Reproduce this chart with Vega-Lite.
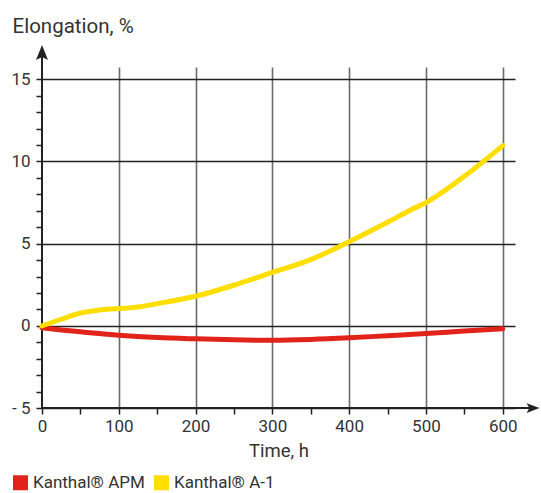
{
  "$schema": "https://vega.github.io/schema/vega-lite/v6.json",
  "autosize": {"type": "none"},
  "padding": {"left": 42, "top": 67, "right": 26, "bottom": 85},
  "width": 473,
  "height": 341,
  "background": "white",
  "config": {"view": {"stroke": null}},
  "datasets": {
    "curves": [
      {"series": "Kanthal® APM", "time": 0, "elongation": -0.12},
      {"series": "Kanthal® APM", "time": 25, "elongation": -0.25},
      {"series": "Kanthal® APM", "time": 50, "elongation": -0.36},
      {"series": "Kanthal® APM", "time": 100, "elongation": -0.57},
      {"series": "Kanthal® APM", "time": 150, "elongation": -0.71},
      {"series": "Kanthal® APM", "time": 200, "elongation": -0.79},
      {"series": "Kanthal® APM", "time": 250, "elongation": -0.85},
      {"series": "Kanthal® APM", "time": 300, "elongation": -0.88},
      {"series": "Kanthal® APM", "time": 350, "elongation": -0.83},
      {"series": "Kanthal® APM", "time": 400, "elongation": -0.73},
      {"series": "Kanthal® APM", "time": 450, "elongation": -0.6},
      {"series": "Kanthal® APM", "time": 500, "elongation": -0.47},
      {"series": "Kanthal® APM", "time": 550, "elongation": -0.32},
      {"series": "Kanthal® APM", "time": 600, "elongation": -0.18},
      {"series": "Kanthal® A-1", "time": 0, "elongation": 0},
      {"series": "Kanthal® A-1", "time": 25, "elongation": 0.4},
      {"series": "Kanthal® A-1", "time": 50, "elongation": 0.78},
      {"series": "Kanthal® A-1", "time": 75, "elongation": 0.96},
      {"series": "Kanthal® A-1", "time": 100, "elongation": 1.05},
      {"series": "Kanthal® A-1", "time": 125, "elongation": 1.15},
      {"series": "Kanthal® A-1", "time": 150, "elongation": 1.35},
      {"series": "Kanthal® A-1", "time": 200, "elongation": 1.8},
      {"series": "Kanthal® A-1", "time": 250, "elongation": 2.47},
      {"series": "Kanthal® A-1", "time": 300, "elongation": 3.25},
      {"series": "Kanthal® A-1", "time": 350, "elongation": 4.03},
      {"series": "Kanthal® A-1", "time": 400, "elongation": 5.12},
      {"series": "Kanthal® A-1", "time": 450, "elongation": 6.3},
      {"series": "Kanthal® A-1", "time": 480, "elongation": 7.05},
      {"series": "Kanthal® A-1", "time": 500, "elongation": 7.5},
      {"series": "Kanthal® A-1", "time": 550, "elongation": 9.1},
      {"series": "Kanthal® A-1", "time": 600, "elongation": 10.97}
    ],
    "axislines": [
      {"x": 0, "y": -5, "x2": 640, "y2": -5},
      {"x": 0, "y": -5, "x2": 0, "y2": 16.5}
    ]
  },
  "layer": [
    {
      "data": {"name": "axislines"},
      "mark": {"type": "rule", "color": "#222", "strokeWidth": 2},
      "encoding": {
        "x": {"field": "x", "type": "quantitative", "scale": {"domain": [0, 616], "nice": false}, "axis": {
          "values": [0, 50, 100, 150, 200, 250, 300, 350, 400, 450, 500, 550, 600],
          "tickCount": 40,
          "format": "d",
          "labelExpr": "datum.value % 100 === 0 ? datum.label : ''",
          "grid": true,
          "gridColor": {"condition": {"test": "datum.value % 100 !== 0 || datum.value === 0", "value": "transparent"}, "value": "#6a6a6a"},
          "gridWidth": 1.6,
          "domain": false,
          "tickSize": 6,
          "tickWidth": 1.5,
          "tickColor": "#222",
          "labelFont": "Roboto",
          "labelFontSize": 17,
          "labelColor": "#333",
          "labelPadding": 4,
          "labelFlush": false,
          "labelOverlap": false,
          "title": "Time, h",
          "titleFont": "Roboto",
          "titleFontSize": 18.5,
          "titleFontWeight": "normal",
          "titleColor": "#333",
          "titlePadding": 7
        }},
        "x2": {"field": "x2"},
        "y": {"field": "y", "type": "quantitative", "scale": {"domain": [-5, 15.75], "nice": false, "zero": false}, "axis": {
          "values": [-5, -4, -3, -2, -1, 0, 1, 2, 3, 4, 5, 6, 7, 8, 9, 10, 11, 12, 13, 14, 15],
          "tickCount": 40,
          "format": "d",
          "labelExpr": "datum.value % 5 === 0 ? (datum.value < 0 ? '- ' + abs(datum.value) : datum.label) : ''",
          "grid": true,
          "gridColor": {"condition": {"test": "datum.value % 5 !== 0", "value": "transparent"}, "value": "#222"},
          "gridWidth": 1.3,
          "domain": false,
          "tickSize": 6,
          "tickWidth": 1.5,
          "tickColor": "#222",
          "labelFont": "Roboto",
          "labelFontSize": 17,
          "labelColor": "#333",
          "labelPadding": 6,
          "labelFlush": false,
          "labelOverlap": false,
          "title": "Elongation, %",
          "titleFont": "Roboto",
          "titleFontSize": 20.5,
          "titleFontWeight": "normal",
          "titleColor": "#333",
          "titleAngle": 0,
          "titleAlign": "left",
          "titleBaseline": "alphabetic",
          "titleX": -30,
          "titleY": -35
        }},
        "y2": {"field": "y2"}
      }
    },
    {
      "data": {"values": [{"x": 639.5, "y": -5}]},
      "mark": {"type": "point", "shape": "M1,0 L-1,-0.75 L-0.55,0 L-1,0.75 Z", "size": 169, "filled": true, "color": "#222", "opacity": 1},
      "encoding": {
        "x": {"field": "x", "type": "quantitative"},
        "y": {"field": "y", "type": "quantitative"}
      }
    },
    {
      "data": {"values": [{"x": 0, "y": 16.63}]},
      "mark": {"type": "point", "shape": "M0,-1 L0.8,1 L0,0.6 L-0.8,1 Z", "size": 225, "filled": true, "color": "#222", "opacity": 1},
      "encoding": {
        "x": {"field": "x", "type": "quantitative"},
        "y": {"field": "y", "type": "quantitative"}
      }
    },
    {
      "data": {"name": "curves"},
      "mark": {"type": "line", "strokeWidth": 5, "interpolate": "monotone", "strokeCap": "round"},
      "encoding": {
        "x": {"field": "time", "type": "quantitative"},
        "y": {"field": "elongation", "type": "quantitative"},
        "color": {
          "field": "series",
          "type": "nominal",
          "scale": {"domain": ["Kanthal® APM", "Kanthal® A-1"], "range": ["#E2231A", "#FFDE00"]},
          "legend": {
            "orient": "none",
            "legendX": -30,
            "legendY": 407,
            "direction": "horizontal",
            "title": null,
            "padding": 0,
            "symbolType": "square",
            "symbolSize": 225,
            "symbolStrokeWidth": 0,
            "labelFont": "Roboto",
            "labelFontSize": 17,
            "labelColor": "#333",
            "labelOffset": 4,
            "columnPadding": 8,
            "encode": {"symbols": {"update": {"fill": {"scale": "color", "field": "value"}, "fillOpacity": {"value": 1}, "strokeWidth": {"value": 0}}}}
          }
        }
      }
    }
  ]
}
